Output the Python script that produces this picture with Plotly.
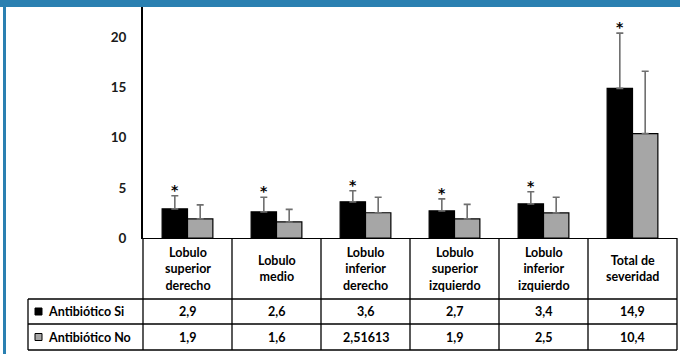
import plotly.graph_objects as go

# Data
categories = [
    "Lobulo<br>superior<br>derecho",
    "Lobulo<br>medio",
    "Lobulo<br>inferior<br>derecho",
    "Lobulo<br>superior<br>izquierdo",
    "Lobulo<br>inferior<br>izquierdo",
    "Total de<br>severidad",
]
series_names = ["Antibiótico Si", "Antibiótico No"]
antibiotico_si = [2.9, 2.6, 3.6, 2.7, 3.4, 14.9]
antibiotico_no = [1.9, 1.6, 2.51613, 1.9, 2.5, 10.4]
error_si = [1.3, 1.45, 1.1, 1.2, 1.2, 5.5]
error_no = [1.4, 1.25, 1.54, 1.45, 1.55, 6.2]
significant = [True, True, True, True, True, True]
y_ticks = [0, 5, 10, 15, 20]

# Styling / geometry
W, H = 680, 354
ML, MR, MT, MB = 143, 3, 7, 116
FONT = "Lato"
BLUE = "#2a80b1"
BAR_COLORS = ["#000000", "#a6a6a6"]
ERR_COLOR = "#6f6f6f"
BARGAP = 0.43

plot_w = W - ML - MR
plot_h = H - MT - MB


def dx(px):
    """pixel column -> x-domain fraction"""
    return (px - ML) / plot_w


def dy(px):
    """pixel row -> y-domain fraction"""
    return (H - MB - px) / plot_h


def fmt(v):
    return str(v).replace(".", ",")


xpos = list(range(len(categories)))

fig = go.Figure()
for name, vals, errs, col in [
    (series_names[0], antibiotico_si, error_si, BAR_COLORS[0]),
    (series_names[1], antibiotico_no, error_no, BAR_COLORS[1]),
]:
    fig.add_trace(go.Bar(
        x=xpos, y=vals, name=name,
        marker=dict(color=col, line=dict(color="#000000", width=1.2)),
        error_y=dict(type="data", symmetric=False, array=errs,
                     arrayminus=[0] * len(errs), color=ERR_COLOR,
                     thickness=1.6, width=3.5),
        showlegend=False,
    ))

annotations = []
shapes = []
text_font = dict(family=FONT, size=12.5, color="#000000", weight="bold")

# significance markers above the "Si" bars
bar_offset = (1 - BARGAP) / 4
for i, (v, e, s) in enumerate(zip(antibiotico_si, error_si, significant)):
    if s:
        annotations.append(dict(
            x=i - bar_offset, y=v + e, xref="x", yref="y",
            text="*", showarrow=False, xanchor="center", yanchor="middle",
            yshift=6,
            font=dict(family="DejaVu Sans", size=14, color="#000000",
                      weight="bold"),
        ))

# data table under the axis
row_header_bottom = dy(299)
row1_bottom = dy(324)
row2_bottom = dy(350)
legend_left = dx(28)

for i, cat in enumerate(categories):
    for text, yv in [
        (cat, (0 + row_header_bottom) / 2),
        (fmt(antibiotico_si[i]), (row_header_bottom + row1_bottom) / 2),
        (fmt(antibiotico_no[i]), (row1_bottom + row2_bottom) / 2),
    ]:
        annotations.append(dict(
            x=i, y=yv, xref="x", yref="y domain",
            text=text, showarrow=False, align="center",
            xanchor="center", yanchor="middle", font=text_font,
        ))

# row labels with legend keys
for r, (name, col) in enumerate(zip(series_names, BAR_COLORS)):
    top = row_header_bottom if r == 0 else row1_bottom
    bot = row1_bottom if r == 0 else row2_bottom
    mid = (top + bot) / 2
    annotations.append(dict(
        x=dx(46), y=mid, xref="x domain", yref="y domain",
        text=name, showarrow=False, xanchor="left", yanchor="middle",
        font=text_font,
    ))
    half = 3.5 / plot_h
    shapes.append(dict(
        type="rect", xref="x domain", yref="y domain",
        x0=dx(35), x1=dx(42), y0=mid - half, y1=mid + half,
        fillcolor=col, line=dict(color="#000000", width=1),
    ))

line_style = dict(color="#000000", width=1.3)
# vertical column separators
for k in range(len(categories) + 1):
    if k == 0:
        xv, xr = 0, "x domain"
    elif k == len(categories):
        xv, xr = 1, "x domain"
    else:
        xv, xr = k - 0.5, "x"
    shapes.append(dict(type="line", xref=xr, yref="y domain",
                       x0=xv, x1=xv, y0=0, y1=row2_bottom, line=line_style))
# legend column edge
shapes.append(dict(type="line", xref="x domain", yref="y domain",
                   x0=legend_left, x1=legend_left,
                   y0=row_header_bottom, y1=row2_bottom, line=line_style))
# horizontal row separators
for yv in [row_header_bottom, row1_bottom, row2_bottom]:
    shapes.append(dict(type="line", xref="x domain", yref="y domain",
                       x0=legend_left, x1=1, y0=yv, y1=yv, line=line_style))

# frame decoration (paper refs span the plot area, so extend into margins)
shapes.append(dict(type="rect", xref="paper", yref="paper",
                   x0=dx(0), x1=dx(W), y0=dy(7), y1=dy(0),
                   fillcolor=BLUE, line=dict(width=0), layer="above"))
shapes.append(dict(type="rect", xref="paper", yref="paper",
                   x0=dx(3), x1=dx(6), y0=dy(H), y1=dy(0),
                   fillcolor=BLUE, line=dict(width=0), layer="above"))

fig.update_layout(
    width=W, height=H,
    margin=dict(l=ML, r=MR, t=MT, b=MB, pad=0),
    paper_bgcolor="white", plot_bgcolor="white",
    barmode="group", bargap=BARGAP, bargroupgap=0,
    annotations=annotations, shapes=shapes,
    xaxis=dict(range=[-0.5, len(categories) - 0.5], showticklabels=False,
               ticks="", showgrid=False, zeroline=False,
               showline=True, linecolor="#000000", linewidth=1.3),
    yaxis=dict(range=[0, 23], tickvals=y_ticks, ticks="",
               showgrid=False, zeroline=False,
               showline=True, linecolor="#000000", linewidth=2,
               ticklabelstandoff=12,
               tickfont=dict(family=FONT, size=13.5, color="#1a1a1a",
                             weight="bold")),
)

fig.write_html("out.html")
